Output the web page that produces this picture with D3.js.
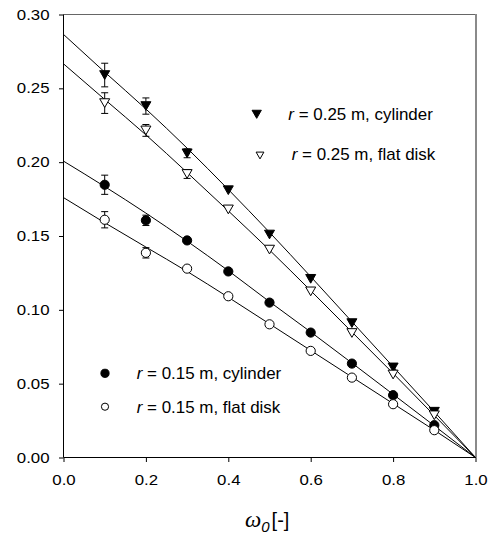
<!DOCTYPE html>
<html>
<head>
<meta charset="utf-8">
<script src="https://cdn.jsdelivr.net/npm/d3@7/dist/d3.min.js"></script>
<style>
  html, body { margin: 0; padding: 0; background: #fff; }
  svg { display: block; }
  text { font-family: "Liberation Sans", Arial, sans-serif; fill: #000; }
</style>
</head>
<body>
<svg id="chart" width="490" height="535"></svg>
<script>
// Dimensionless frequency on the x axis
const omega = [0.1, 0.2, 0.3, 0.4, 0.5, 0.6, 0.7, 0.8, 0.9];

// Measured values with their standard errors
const cyl25 = [0.259, 0.238, 0.206, 0.181, 0.151, 0.121, 0.091, 0.061, 0.031];
const cyl25Err = [0.008, 0.0055, 0.003, 0, 0, 0, 0, 0, 0];
const flat25 = [0.240, 0.2215, 0.192, 0.168, 0.1408, 0.1125, 0.0843, 0.0562, 0.0286];
const flat25Err = [0.007, 0.004, 0.003, 0, 0, 0, 0, 0, 0];
const cyl15 = [0.1847, 0.1606, 0.147, 0.126, 0.1049, 0.0846, 0.0636, 0.0422, 0.0219];
const cyl15Err = [0.0065, 0.0035, 0, 0, 0, 0, 0, 0, 0];
const flat15 = [0.161, 0.1386, 0.1279, 0.1092, 0.0902, 0.0722, 0.0541, 0.0361, 0.0185];
const flat15Err = [0.0055, 0.0035, 0, 0, 0, 0, 0, 0, 0];

// Model curves evaluated on a 0.1 grid from 0 to 1
const fitOmega = [0, 0.1, 0.2, 0.3, 0.4, 0.5, 0.6, 0.7, 0.8, 0.9, 1.0];
const fitCyl25 = [0.2865, 0.261, 0.236, 0.2095, 0.1815, 0.1525, 0.1225, 0.092, 0.0615, 0.031, 0];
const fitFlat25 = [0.2666, 0.2425, 0.2185, 0.193, 0.167, 0.1405, 0.113, 0.085, 0.057, 0.0285, 0];
const fitCyl15 = [0.2007, 0.1835, 0.1655, 0.1465, 0.1265, 0.1055, 0.085, 0.064, 0.0428, 0.0215, 0];
const fitFlat15 = [0.176, 0.159, 0.1425, 0.126, 0.1085, 0.0905, 0.0725, 0.0545, 0.0365, 0.0185, 0];

// Axis ticks
const xTicks = [0.0, 0.2, 0.4, 0.6, 0.8, 1.0];
const yTicks = [0.00, 0.05, 0.10, 0.15, 0.20, 0.25, 0.30];

// Legend labels
const legendRadius = ["0.25", "0.25", "0.15", "0.15"];
const legendShape = ["cylinder", "flat disk", "cylinder", "flat disk"];

const svg = d3.select("#chart");
const L = 63.5, R = 475.5, T = 14.5, B = 457.5;
const x = d3.scaleLinear().domain([0, 1]).range([L, R]);
const y = d3.scaleLinear().domain([0, 0.3]).range([B, T]);

const TICK_SX = 1.16, LEG_SX = 1.06;

// frame: grey top and right edges
svg.append("line").attr("x1", L).attr("x2", R + 0.5).attr("y1", T).attr("y2", T)
  .attr("stroke", "#666").attr("stroke-width", 1);
svg.append("line").attr("x1", R + 0.5).attr("x2", R + 0.5).attr("y1", T - 0.5).attr("y2", B)
  .attr("stroke", "#8a8a8a").attr("stroke-width", 2);

// axes
function stretchLabels(g, sx) {
  g.selectAll(".tick text").each(function () {
    const t = d3.select(this);
    const tx = +t.attr("x") || 0, ty = +t.attr("y") || 0;
    t.attr("x", 0).attr("y", 0).attr("transform", `translate(${tx},${ty}) scale(${sx},1)`);
  });
}

const yAxis = svg.append("g").attr("transform", `translate(${L},0)`)
  .call(d3.axisLeft(y).tickValues(yTicks).tickSize(4.5).tickPadding(9.5).tickFormat(d3.format(".2f")));
yAxis.selectAll("text").attr("font-size", "14.5px").attr("font-family", "Liberation Sans, Arial, sans-serif").attr("fill", "#000");
stretchLabels(yAxis, TICK_SX);

const xAxis = svg.append("g").attr("transform", `translate(0,${B})`)
  .call(d3.axisBottom(x).tickValues(xTicks).tickSize(4.5).tickPadding(12.5).tickFormat(d3.format(".1f")));
xAxis.selectAll("text").attr("font-size", "14.5px").attr("font-family", "Liberation Sans, Arial, sans-serif").attr("fill", "#000");
stretchLabels(xAxis, TICK_SX);
[yAxis, xAxis].forEach(g => {
  g.select(".domain").attr("stroke", "#000").attr("stroke-width", 1);
  g.selectAll(".tick line").attr("stroke", "#000");
});
// plain axis lines without the end stubs
yAxis.select(".domain").attr("d", `M0,${T}V${B}`);
xAxis.select(".domain").attr("d", `M${L},0H${R}`);

// model curves
const line = d3.line().x((d, i) => x(fitOmega[i])).y(d => y(d)).curve(d3.curveMonotoneX);
[fitCyl25, fitFlat25, fitCyl15, fitFlat15].forEach(f => {
  svg.append("path").attr("d", line(f)).attr("fill", "none").attr("stroke", "#000").attr("stroke-width", 1);
});

// markers
const triDown = (cx, cy, w) => {
  const h = w * 0.87;
  return `M${cx - w / 2},${cy - h / 2}L${cx + w / 2},${cy - h / 2}L${cx},${cy + h / 2}Z`;
};

function drawMarker(g, shape, filled, cx, cy, size) {
  if (shape === "tri") {
    g.append("path").attr("d", triDown(cx, cy, size))
      .attr("fill", filled ? "#000" : "#fff").attr("stroke", "#000").attr("stroke-width", 1);
  } else {
    g.append("circle").attr("cx", cx).attr("cy", cy).attr("r", size / 2)
      .attr("fill", filled ? "#000" : "#fff").attr("stroke", "#000").attr("stroke-width", 1);
  }
}

const series = [
  { vals: cyl25, errs: cyl25Err, shape: "tri", filled: true },
  { vals: flat25, errs: flat25Err, shape: "tri", filled: false },
  { vals: cyl15, errs: cyl15Err, shape: "circ", filled: true },
  { vals: flat15, errs: flat15Err, shape: "circ", filled: false }
];

series.forEach(s => {
  const g = svg.append("g");
  s.vals.forEach((v, i) => {
    const e = s.errs[i];
    const cx = x(omega[i]);
    if (e > 0) {
      const y1 = y(v + e), y2 = y(v - e);
      g.append("line").attr("x1", cx).attr("x2", cx).attr("y1", y1).attr("y2", y2)
        .attr("stroke", "#000").attr("stroke-width", 1);
      [y1, y2].forEach(yy => g.append("line").attr("x1", cx - 3.5).attr("x2", cx + 3.5)
        .attr("y1", yy).attr("y2", yy).attr("stroke", "#000").attr("stroke-width", 1));
    }
    drawMarker(g, s.shape, s.filled, cx, y(v), s.shape === "tri" ? 10 : 9.2);
  });
});

// legend
const legendPos = [
  { mx: 256.7, my: 114.3, tx: 288.3, ty: 120, ms: 9.3 },
  { mx: 260, my: 155.5, tx: 291.7, ty: 160.3, ms: 7.8 },
  { mx: 105, my: 373.3, tx: 136.7, ty: 378.6, ms: 8.2 },
  { mx: 105, my: 406.7, tx: 136.7, ty: 412.5, ms: 7.2 }
];
legendPos.forEach((p, i) => {
  const s = series[i];
  const g = svg.append("g");
  drawMarker(g, s.shape, s.filled, p.mx, p.my, p.ms);
  const t = g.append("text").attr("transform", `translate(${p.tx},${p.ty}) scale(${LEG_SX},1)`)
    .attr("font-size", "16px");
  t.append("tspan").attr("font-style", "italic").text("r");
  t.append("tspan").text(` = ${legendRadius[i]} m, ${legendShape[i]}`);
});

// x-axis title
const xt = svg.append("text").attr("x", 245).attr("y", 527);
xt.append("tspan").attr("font-family", "Liberation Serif, Times New Roman, serif")
  .attr("font-style", "italic").attr("font-size", "23px").text("ω");
xt.append("tspan").attr("font-style", "italic").attr("font-size", "15px").attr("dy", 5).text("0");
xt.append("tspan").attr("font-size", "20px").attr("dy", -5).attr("dx", 2).text("[-]");
</script>
</body>
</html>
